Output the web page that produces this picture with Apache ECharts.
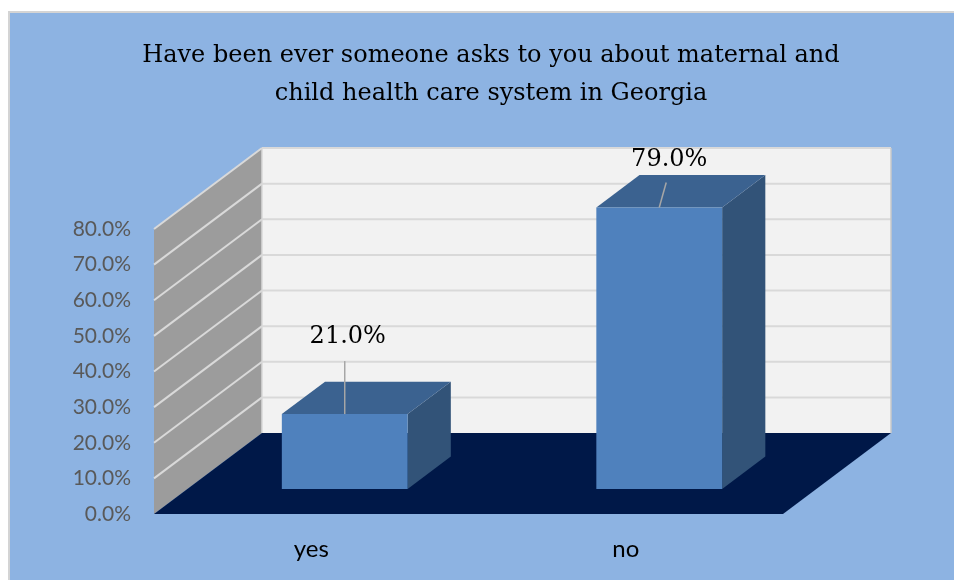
<!DOCTYPE html>
<html><head><meta charset="utf-8">
<script src="https://cdn.jsdelivr.net/npm/echarts@6/dist/echarts.min.js"></script>
<style>
html,body{margin:0;padding:0;background:#fff;}
#bg{position:absolute;left:8px;top:11px;width:946px;height:569px;background:#8DB3E2;border-left:2px solid #D4D4D4;border-top:2px solid #D4D4D4;box-sizing:border-box;}
#chart{position:absolute;left:0;top:0;width:954px;height:580px;}
</style></head><body><div id="bg"></div><div id="chart"></div>
<script>
// ---- data ----
const titleText = 'Have been ever someone asks to you about maternal and\nchild health care system in Georgia';
const categories = ['yes', 'no'];
const values = [0.21, 0.79];
const dataLabels = ['21.0%', '79.0%'];
const yTicks = [0, 0.1, 0.2, 0.3, 0.4, 0.5, 0.6, 0.7, 0.8];

// ---- layout / style constants ----
const DX = 108, DY = -81;       // depth vector of the 3D box
const D0 = 0.31, BD = 0.40;     // bar depth start and depth length (fractions)
const BAR_W = 0.40;             // bar width as fraction of band
const labelLayout = [
  {lx: 0, ly: -53, tx: 3, ty: -77},
  {lx: 7, ly: -25, tx: 10, ty: -48}
];

const chart = echarts.init(document.getElementById('chart'), null, {renderer: 'canvas'});

function renderWalls(params, api) {
  const cs = params.coordSys;
  const xl = cs.x, xr = cs.x + cs.width;
  const y0 = api.coord([0, 0])[1];
  const yTop = api.coord([0, yTicks[yTicks.length - 1]])[1];
  const ch = [];
  ch.push({type: 'polygon', shape: {points: [[xl, yTop], [xl + DX, yTop + DY], [xl + DX, y0 + DY], [xl, y0]]}, style: {fill: '#9C9C9C'}});
  ch.push({type: 'rect', shape: {x: xl + DX, y: yTop + DY, width: xr - xl, height: y0 - yTop}, style: {fill: '#F2F2F2'}});
  yTicks.forEach(function (t) {
    if (t === 0) return;
    const y = api.coord([0, t])[1];
    ch.push({type: 'line', shape: {x1: xl, y1: y, x2: xl + DX, y2: y + DY}, style: {stroke: '#D9D9D9', lineWidth: 2}});
    ch.push({type: 'line', shape: {x1: xl + DX, y1: y + DY, x2: xr + DX, y2: y + DY}, style: {stroke: '#D9D9D9', lineWidth: 2}});
  });
  ch.push({type: 'line', shape: {x1: xl + DX, y1: yTop + DY, x2: xl + DX, y2: y0 + DY}, style: {stroke: '#D9D9D9', lineWidth: 1.5}});
  ch.push({type: 'line', shape: {x1: xr + DX, y1: yTop + DY, x2: xr + DX, y2: y0 + DY}, style: {stroke: '#C8C8C8', lineWidth: 1.5}});
  ch.push({type: 'polygon', shape: {points: [[xl, y0], [xr, y0], [xr + DX, y0 + DY], [xl + DX, y0 + DY]]}, style: {fill: '#001848'}});
  return {type: 'group', children: ch};
}

function renderBar(params, api) {
  const i = api.value(0), v = api.value(1);
  const p0 = api.coord([i, 0]), pv = api.coord([i, v]);
  const band = api.size([1, 0])[0];
  const w = band * BAR_W;
  const ox = D0 * DX, oy = D0 * DY, bx = BD * DX, by = BD * DY;
  const cx = p0[0] + ox;
  const xl = cx - w / 2, xr = cx + w / 2, yb = p0[1] + oy, yt = pv[1] + oy;
  const lo = labelLayout[params.dataIndex];
  return {type: 'group', children: [
    {type: 'polygon', shape: {points: [[xr, yt], [xr + bx, yt + by], [xr + bx, yb + by], [xr, yb]]}, style: {fill: '#325378'}},
    {type: 'polygon', shape: {points: [[xl, yt], [xr, yt], [xr + bx, yt + by], [xl + bx, yt + by]]}, style: {fill: '#3B6290'}},
    {type: 'rect', shape: {x: xl, y: yt, width: w, height: yb - yt}, style: {fill: '#4F81BD'}},
    {type: 'line', shape: {x1: cx, y1: yt, x2: cx + lo.lx, y2: yt + lo.ly}, style: {stroke: '#A6A6A6', lineWidth: 1.5}},
    {type: 'text', x: cx + lo.tx, y: yt + lo.ty, style: {text: dataLabels[params.dataIndex], fill: '#000', font: '24px "DejaVu Serif"', align: 'center', verticalAlign: 'middle'}}
  ]};
}

chart.setOption({
  backgroundColor: 'transparent',
  animation: false,
  title: {
    text: titleText, left: 486, top: 32, textAlign: 'center',
    textStyle: {fontFamily: 'DejaVu Serif', fontSize: 24, fontWeight: 'normal', color: '#000', lineHeight: 38}
  },
  grid: {left: 154, right: 171, top: 229, bottom: 66},
  xAxis: {
    type: 'category', data: categories,
    axisLine: {show: false}, axisTick: {show: false},
    axisLabel: {fontFamily: 'Lato', fontSize: 24, color: '#000', margin: 23}
  },
  yAxis: {
    type: 'value', min: 0, max: 0.8, interval: 0.1,
    axisLine: {show: false}, axisTick: {show: false}, splitLine: {show: false},
    axisLabel: {fontFamily: 'Lato', fontSize: 21, color: '#595959', margin: 23,
      formatter: function (v) { return (v * 100).toFixed(1) + '%'; }}
  },
  series: [
    {type: 'custom', renderItem: renderWalls, data: [[0, 0]], z: 1, silent: true},
    {type: 'custom', renderItem: renderBar, data: values.map(function (v, i) { return [i, v]; }), z: 3}
  ]
});
</script></body></html>
